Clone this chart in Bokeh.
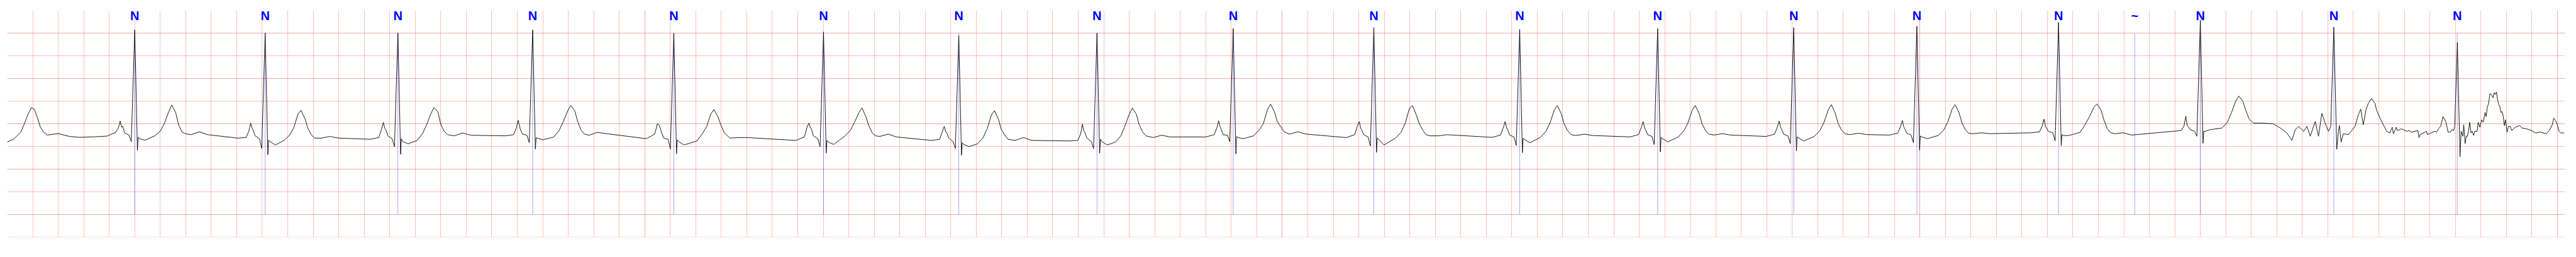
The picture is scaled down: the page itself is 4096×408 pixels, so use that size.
from bokeh.plotting import figure
from bokeh.models import ColumnDataSource, FixedTicker, Range1d, Grid
from bokeh.core.properties import value
from bokeh.embed import file_html
from bokeh.resources import INLINE

# ---------------- data (seconds / mV) ----------------
r_times = [1.000, 2.023, 3.064, 4.121, 5.228, 6.402, 7.463, 8.547, 9.615,
           10.718, 11.862, 12.944, 14.011, 14.977, 16.088, 17.200, 18.247, 19.215]

ann_times = r_times[:15] + [16.686] + r_times[15:]
ann_symbols = ["N"] * 15 + ["~"] + ["N"] * 3

# knot offsets relative to R peak (P wave + QRS + ST)
pre_offsets = [-0.216, -0.150, -0.128, -0.114, -0.103, -0.095, -0.079,
               -0.045, -0.027, 0.0, 0.021, 0.027, 0.038, 0.080]
# knot offsets relative to T peak
t_offsets = [-0.133, -0.090, -0.057, -0.024, 0.0, 0.031, 0.053, 0.080, 0.107]
# knot offsets relative to R peak (U wave / baseline)
post_offsets = [0.441, 0.507, 0.573]

pre_vals = [
    [-0.272, -0.191, -0.091, 0.060, -0.078, -0.053, -0.204, -0.250, -0.398, 2.070, -0.589, -0.297, -0.330, -0.363],
    [-0.317, -0.305, -0.166, 0.015, -0.091, -0.141, -0.267, -0.330, -0.544, 2.005, -0.683, -0.363, -0.393, -0.469],
    [-0.343, -0.305, -0.116, 0.028, -0.103, -0.128, -0.267, -0.330, -0.506, 2.005, -0.675, -0.330, -0.393, -0.443],
    [-0.267, -0.242, -0.091, 0.073, -0.053, -0.141, -0.229, -0.254, -0.418, 2.068, -0.557, -0.312, -0.317, -0.355],
    [-0.330, -0.229, 0.005, -0.040, -0.128, -0.204, -0.317, -0.343, -0.557, 2.000, -0.665, -0.355, -0.393, -0.469],
    [-0.368, -0.292, -0.065, 0.015, -0.091, -0.116, -0.267, -0.330, -0.506, 2.025, -0.650, -0.368, -0.406, -0.456],
    [-0.368, -0.343, -0.166, -0.058, -0.179, -0.191, -0.317, -0.393, -0.544, 1.945, -0.695, -0.418, -0.456, -0.506],
    [-0.380, -0.368, -0.217, -0.010, -0.166, -0.191, -0.317, -0.393, -0.549, 2.000, -0.650, -0.343, -0.393, -0.469],
    [-0.292, -0.242, -0.091, 0.065, -0.065, -0.116, -0.242, -0.254, -0.398, 2.100, -0.665, -0.280, -0.305, -0.330],
    [-0.305, -0.242, -0.040, 0.048, -0.103, -0.141, -0.242, -0.292, -0.494, 2.120, -0.632, -0.317, -0.343, -0.469],
    [-0.300, -0.250, -0.080, 0.050, -0.090, -0.130, -0.250, -0.290, -0.480, 2.080, -0.640, -0.320, -0.350, -0.420],
    [-0.290, -0.240, -0.080, 0.050, -0.090, -0.130, -0.240, -0.280, -0.460, 2.100, -0.620, -0.300, -0.330, -0.400],
    [-0.280, -0.230, -0.070, 0.060, -0.080, -0.120, -0.230, -0.270, -0.440, 2.120, -0.600, -0.290, -0.310, -0.380],
    [-0.250, -0.210, -0.060, 0.070, -0.070, -0.110, -0.210, -0.250, -0.420, 2.150, -0.580, -0.270, -0.290, -0.330],
    [-0.200, -0.180, -0.050, 0.100, -0.050, -0.090, -0.170, -0.200, -0.377, 2.236, -0.485, -0.240, -0.260, -0.260],
    [-0.167, -0.150, -0.050, 0.165, -0.040, -0.059, -0.130, -0.167, -0.276, 2.283, -0.431, -0.167, -0.167, -0.130],
]

t_delay = [0.290, 0.281, 0.283, 0.299, 0.314, 0.302, 0.279, 0.277, 0.293, 0.303,
           0.295, 0.295, 0.295, 0.300, 0.302, 0.302]

t_vals = [
    [-0.267, -0.166, 0.010, 0.262, 0.413, 0.249, -0.015, -0.179, -0.222],
    [-0.368, -0.254, -0.091, 0.212, 0.295, 0.111, -0.091, -0.242, -0.317],
    [-0.370, -0.217, -0.015, 0.224, 0.358, 0.262, -0.015, -0.166, -0.242],
    [-0.292, -0.141, 0.060, 0.287, 0.400, 0.287, 0.060, -0.141, -0.229],
    [-0.380, -0.217, -0.065, 0.212, 0.312, 0.161, -0.015, -0.191, -0.267],
    [-0.267, -0.141, 0.040, 0.249, 0.350, 0.149, -0.040, -0.204, -0.267],
    [-0.443, -0.317, -0.116, 0.186, 0.287, 0.111, -0.116, -0.242, -0.343],
    [-0.406, -0.267, -0.040, 0.212, 0.345, 0.212, -0.015, -0.179, -0.267],
    [-0.267, -0.141, 0.000, 0.312, 0.431, 0.262, 0.048, -0.065, -0.179],
    [-0.317, -0.191, 0.010, 0.338, 0.400, 0.186, 0.010, -0.141, -0.242],
    [-0.300, -0.170, 0.020, 0.300, 0.400, 0.220, 0.000, -0.150, -0.240],
    [-0.290, -0.160, 0.020, 0.300, 0.400, 0.220, 0.000, -0.150, -0.230],
    [-0.280, -0.150, 0.030, 0.310, 0.420, 0.230, 0.010, -0.140, -0.220],
    [-0.260, -0.140, 0.040, 0.320, 0.420, 0.240, 0.020, -0.130, -0.210],
    [-0.190, 0.000, 0.170, 0.370, 0.436, 0.303, 0.090, -0.110, -0.200],
    [-0.095, 0.030, 0.250, 0.500, 0.610, 0.500, 0.310, 0.110, 0.030],
]

post_vals = [
    [-0.242, -0.179, -0.242],
    [-0.317, -0.280, -0.317],
    [-0.267, -0.204, -0.254],
    [-0.254, -0.191, -0.217],
    [-0.317, -0.305, -0.305],
    [-0.280, -0.229, -0.292],
    [-0.368, -0.305, -0.368],
    [-0.305, -0.254, -0.292],
    [-0.229, -0.179, -0.229],
    [-0.267, -0.267, -0.242],
    [-0.260, -0.230, -0.260],
    [-0.250, -0.220, -0.250],
    [-0.240, -0.210, -0.240],
    [-0.220, -0.200, -0.220],
    [-0.220, -0.200, -0.250],
    [],
]

lead_t = [0.0, 0.050, 0.105, 0.1325, 0.160, 0.190, 0.2146, 0.2365, 0.2584, 0.2857,
          0.313, 0.4008, 0.488, 0.565, 0.6745]
lead_v = [-0.40, -0.34, -0.19, -0.015, 0.19, 0.357, 0.31, 0.136, -0.065, -0.19,
          -0.25, -0.217, -0.28, -0.30, -0.29]

# noisy end of the strip (after beat 16's T wave)
tail_t = [17.619, 17.697, 17.775, 17.827, 17.879, 17.918, 17.945, 17.971, 18.010, 18.036,
          18.062, 18.101, 18.127, 18.153, 18.179, 18.205, 18.223, 18.247, 18.270, 18.283,
          18.291, 18.304, 18.322, 18.361, 18.413, 18.439, 18.458, 18.478, 18.499, 18.517,
          18.543, 18.570, 18.582, 18.609, 18.635, 18.661,
          18.687, 18.705, 18.714, 18.736, 18.745, 18.777, 18.821, 18.835, 18.857, 18.906,
          18.915, 18.924, 18.973, 18.982, 19.036, 19.053, 19.067, 19.085, 19.103, 19.125,
          19.143, 19.161, 19.174, 19.187, 19.195, 19.216,
          19.2365, 19.2455, 19.2589, 19.2660, 19.2767, 19.2857, 19.2946, 19.3035, 19.3124, 19.3232,
          19.3321, 19.3437, 19.3526, 19.3705, 19.3794, 19.3928, 19.4062, 19.4196, 19.4330, 19.4420,
          19.4509, 19.4598, 19.4714, 19.4821, 19.4955, 19.5045, 19.5134, 19.5223, 19.5312, 19.5402,
          19.5491, 19.5580, 19.5670, 19.5759, 19.5848, 19.5937, 19.6054, 19.6161, 19.6295, 19.6429,
          19.6697, 19.7054, 19.7233, 19.7590, 19.7947, 19.8304, 19.8661, 19.9108, 19.9376, 19.9599,
          19.9715, 19.9867, 20.0001, 20.0135, 20.0269, 20.0537]
tail_v = [0.014, 0.014, -0.004, -0.095, -0.203, -0.366, -0.131, -0.059, -0.167, -0.059,
          -0.276, 0.050, -0.276, 0.230, 0.014, -0.167, -0.059, 2.130, -0.565, -0.167,
          -0.041, -0.402, -0.221, -0.239, -0.059, 0.194, 0.321, -0.023, 0.303, 0.447,
          0.556, 0.447, 0.303, 0.122, -0.023, -0.167,
          -0.203, -0.077, -0.221, -0.077, -0.149, -0.113, -0.167, -0.149, -0.185, -0.149,
          -0.305, -0.240, -0.167, -0.240, -0.167, -0.185, -0.113, -0.059, 0.158, 0.050,
          -0.185, -0.185, -0.131, -0.149, -0.059, 1.790,
          -0.727, -0.167, -0.276, -0.023, -0.438, -0.276, -0.276, -0.167, 0.032, -0.203,
          -0.167, -0.258, -0.167, -0.167, 0.032, -0.077, 0.086, 0.032, 0.249, 0.158,
          0.375, 0.429, 0.664, 0.646, 0.574, 0.682, 0.646, 0.700, 0.520, 0.429,
          0.375, 0.249, 0.267, 0.158, -0.041, 0.086, -0.185, -0.059, -0.059, -0.149,
          -0.077, -0.041, -0.095, -0.113, -0.149, -0.203, -0.185, -0.221, -0.149, -0.023,
          0.122, 0.068, -0.023, -0.167, -0.203, -0.203]

# ---------------- build trace from the read knots ----------------
pts = list(zip(lead_t, lead_v))
for i in range(len(pre_vals)):
    r = r_times[i]
    pts += [(r + o, v) for o, v in zip(pre_offsets, pre_vals[i])]
    pts += [(r + t_delay[i] + o, v) for o, v in zip(t_offsets, t_vals[i])]
    pts += [(r + o, v) for o, v in zip(post_offsets, post_vals[i])]
pts += list(zip(tail_t, tail_v))
pts.sort(key=lambda q: q[0])
sig = ColumnDataSource(dict(t=[q[0] for q in pts], v=[q[1] for q in pts]))

ann = ColumnDataSource(dict(t=ann_times, sym=ann_symbols,
                            y0=[-2.0] * len(ann_times), y1=[2.0] * len(ann_times),
                            ytop=[2.5] * len(ann_times)))

# ---------------- figure ----------------
p = figure(width=4080, height=392, x_range=Range1d(0, 20.06), y_range=Range1d(-2.502, 2.5),
           x_axis_location=None, y_axis_location=None,
           toolbar_location=None, output_backend="svg",
           min_border_left=11, min_border_right=2, min_border_top=16, min_border_bottom=16)
p.outline_line_color = None
p.background_fill_color = "white"
p.border_fill_color = "white"

xg = Grid(dimension=0, ticker=FixedTicker(ticks=[round(0.2 * k, 1) for k in range(101)]),
          grid_line_color="red", grid_line_alpha=0.25, grid_line_width=1)
yg = Grid(dimension=1, ticker=FixedTicker(ticks=[-2.5, -2.0, -1.5, -1.0, -0.5, 0.0, 0.5, 1.0, 1.5, 2.0]),
          grid_line_color="red", grid_line_alpha=0.25, grid_line_width=1.1)
p.add_layout(xg)
p.add_layout(yg)

p.segment(x0="t", y0="y0", x1="t", y1="y1", source=ann, line_color="blue",
          line_alpha=0.5, line_width=0.7)
p.line(x="t", y="v", source=sig, line_color="black", line_width=0.9)
p.text(x="t", y="ytop", text="sym", source=ann, text_align="center", text_baseline="top",
       text_color="blue", text_font=value("Liberation Sans"), text_font_style="bold",
       text_font_size="20px", y_offset=-3)

open("out.html", "w").write(file_html(p, INLINE))
